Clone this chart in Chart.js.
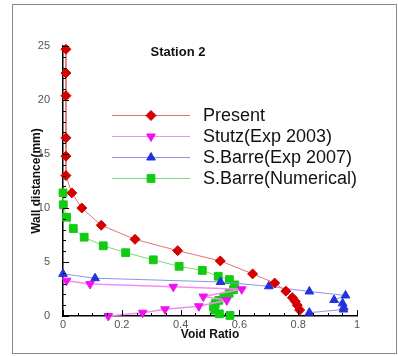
<!DOCTYPE html>
<html>
<head>
<meta charset="utf-8">
<script src="https://cdn.jsdelivr.net/npm/chart.js@4/dist/chart.umd.min.js"></script>
<style>
    html, body { margin: 0; padding: 0; background: #fff; }
</style>
</head>
<body>
<canvas id="graph" width="398" height="356"></canvas>
<script>
// void ratio profiles at station 2 (x = void ratio, y = wall distance in mm)
const presentX = [0.01, 0.01, 0.01, 0.01, 0.01, 0.01, 0.03, 0.064, 0.13, 0.245, 0.39, 0.535, 0.645, 0.72, 0.758, 0.78, 0.79, 0.797, 0.805];
const presentY = [24.7, 22.5, 20.4, 16.5, 14.8, 13.0, 11.4, 10.0, 8.4, 7.1, 6.05, 5.1, 3.9, 3.05, 2.3, 1.7, 1.35, 1.0, 0.55];

const stutzX = [0.012, 0.092, 0.375, 0.608, 0.477, 0.557, 0.462, 0.347, 0.271, 0.154];
const stutzY = [3.27, 2.96, 2.7, 2.47, 1.8, 1.45, 0.9, 0.62, 0.3, 0.0];

const barreExpX = [0.0, 0.109, 0.536, 0.70, 0.838, 0.961, 0.922, 0.951, 0.955, 0.954, 0.838];
const barreExpY = [3.9, 3.5, 3.15, 2.75, 2.27, 1.9, 1.48, 1.17, 0.8, 0.6, 0.31];

const barreNumX = [0.0, 0.001, 0.012, 0.035, 0.072, 0.137, 0.213, 0.307, 0.395, 0.474, 0.528, 0.566, 0.584, 0.58, 0.565, 0.547, 0.53, 0.518, 0.512, 0.516, 0.532, 0.568];
const barreNumY = [11.4, 10.3, 9.15, 8.1, 7.3, 6.5, 5.86, 5.2, 4.6, 4.22, 3.68, 3.37, 2.88, 2.45, 2.1, 1.75, 1.45, 1.15, 0.86, 0.55, 0.2, 0.05];

const seriesNames = ['Present', 'Stutz(Exp 2003)', 'S.Barre(Exp 2007)', 'S.Barre(Numerical)'];
const xTickValues = [0, 0.2, 0.4, 0.6, 0.8, 1];
const yTickValues = [0, 5, 10, 15, 20, 25];

function toPoints(xs, ys) {
    return xs.map(function (x, i) {
        return {x: x, y: ys[i]};
    });
}

// styles for each series, same order as seriesNames
const styles = [
    {marker: '#d40000', line: '#e27272', pointStyle: 'rectRot', radius: 5, rotation: 0, lineWidth: 1},
    {marker: '#ee11ee', line: '#f38cf3', pointStyle: 'triangle', radius: 5, rotation: 180, lineWidth: 1.5},
    {marker: '#2233dd', line: '#8895ea', pointStyle: 'triangle', radius: 5, rotation: 0, lineWidth: 1},
    {marker: '#11cc11', line: '#77dd77', pointStyle: 'rect', radius: 5.5, rotation: 0, lineWidth: 1}
];

const allData = [
    toPoints(presentX, presentY),
    toPoints(stutzX, stutzY),
    toPoints(barreExpX, barreExpY),
    toPoints(barreNumX, barreNumY)
];

const datasets = allData.map(function (pts, i) {
    let s = styles[i];
    return {
        label: seriesNames[i],
        data: pts,
        showLine: true,
        tension: 0,
        borderColor: s.line,
        borderWidth: s.lineWidth,
        pointStyle: s.pointStyle,
        pointRotation: s.rotation,
        pointRadius: s.radius,
        pointBackgroundColor: s.marker,
        pointBorderColor: s.marker,
        pointBorderWidth: 1,
        clip: false
    };
});

// ticks drawn inward from the axes, with minor ticks
const insideTicks = {
    id: 'insideTicks',
    afterDatasetsDraw(chart) {
        let ctx = chart.ctx;
        let xs = chart.scales.x, ys = chart.scales.y;
        let area = chart.chartArea;
        ctx.save();
        ctx.strokeStyle = '#000';
        ctx.lineWidth = 1;
        for (let i = 0; i <= 20; i++) {
            let v = i * 0.05;
            let px = Math.round(xs.getPixelForValue(v)) + 0.5;
            let len = (i % 4 === 0) ? 6 : 3;
            ctx.beginPath();
            ctx.moveTo(px, area.bottom);
            ctx.lineTo(px, area.bottom - len);
            ctx.stroke();
        }
        for (let i = 0; i <= 25; i++) {
            let py = Math.round(ys.getPixelForValue(i)) + 0.5;
            let len = (i % 5 === 0) ? 6 : 3;
            ctx.beginPath();
            ctx.moveTo(area.left, py);
            ctx.lineTo(area.left + len, py);
            ctx.stroke();
        }
        ctx.restore();
    },
    afterDraw(chart) {
        let ctx = chart.ctx;
        ctx.save();
        // outer frame
        ctx.strokeStyle = '#8a8a8a';
        ctx.lineWidth = 1;
        ctx.strokeRect(12.5, 4.5, 384, 349);

        // title
        ctx.fillStyle = '#111';
        ctx.font = 'bold 13px "Liberation Sans", Arial, sans-serif';
        ctx.textAlign = 'center';
        ctx.textBaseline = 'middle';
        ctx.fillText('Station 2', 178, 52);

        // legend
        let rowsY = [115, 136, 157, 178];
        ctx.font = '18px "Liberation Sans", Arial, sans-serif';
        ctx.textAlign = 'left';
        rowsY.forEach(function (y, i) {
            let s = styles[i];
            ctx.strokeStyle = s.line;
            ctx.lineWidth = 1;
            ctx.beginPath();
            ctx.moveTo(112, y + 0.5);
            ctx.lineTo(190, y + 0.5);
            ctx.stroke();
            ctx.fillStyle = s.marker;
            ctx.strokeStyle = s.marker;
            Chart.helpers.drawPoint(ctx, {
                pointStyle: s.pointStyle,
                rotation: s.rotation,
                radius: s.radius,
                borderWidth: 1
            }, 151, y + 0.5);
            ctx.fillStyle = '#111';
            ctx.fillText(seriesNames[i], 203, y + 1);
        });
        ctx.restore();
    }
};

const graphCtx = document.getElementById('graph').getContext('2d');

const chart = new Chart(graphCtx, {
    type: 'scatter',
    data: {datasets: datasets},
    options: {
        responsive: false,
        animation: false,
        devicePixelRatio: 1,
        layout: {padding: {left: 29, right: 41, top: 46, bottom: 14}},
        plugins: {
            legend: {display: false},
            tooltip: {enabled: false}
        },
        scales: {
            x: {
                type: 'linear',
                min: 0,
                max: 1,
                afterFit: function (scale) { scale.height = 26; },
                afterBuildTicks: function (scale) {
                    scale.ticks = xTickValues.map(function (v) { return {value: v}; });
                },
                ticks: {
                    padding: -6,
                    color: '#555',
                    font: {size: 11, family: '"Liberation Sans", Arial, sans-serif'},
                    callback: function (v) { return String(Math.round(v * 10) / 10); }
                },
                grid: {display: false},
                border: {display: true, color: '#000', width: 1.5},
                title: {
                    display: true,
                    text: 'Void Ratio',
                    color: '#111',
                    padding: 0,
                    font: {size: 12, weight: 'bold', family: '"Liberation Sans", Arial, sans-serif'}
                }
            },
            y: {
                type: 'linear',
                min: 0,
                max: 25,
                afterFit: function (scale) { scale.width = 34; },
                afterBuildTicks: function (scale) {
                    scale.ticks = yTickValues.map(function (v) { return {value: v}; });
                },
                ticks: {
                    padding: 5,
                    color: '#555',
                    font: {size: 11, family: '"Liberation Sans", Arial, sans-serif'}
                },
                grid: {display: false},
                border: {display: true, color: '#000', width: 1.5},
                title: {
                    display: true,
                    text: 'Wall distance(mm)',
                    color: '#111',
                    padding: 0,
                    font: {size: 12, weight: 'bold', family: '"Liberation Sans", Arial, sans-serif'}
                }
            }
        }
    },
    plugins: [insideTicks]
});
</script>
</body>
</html>
